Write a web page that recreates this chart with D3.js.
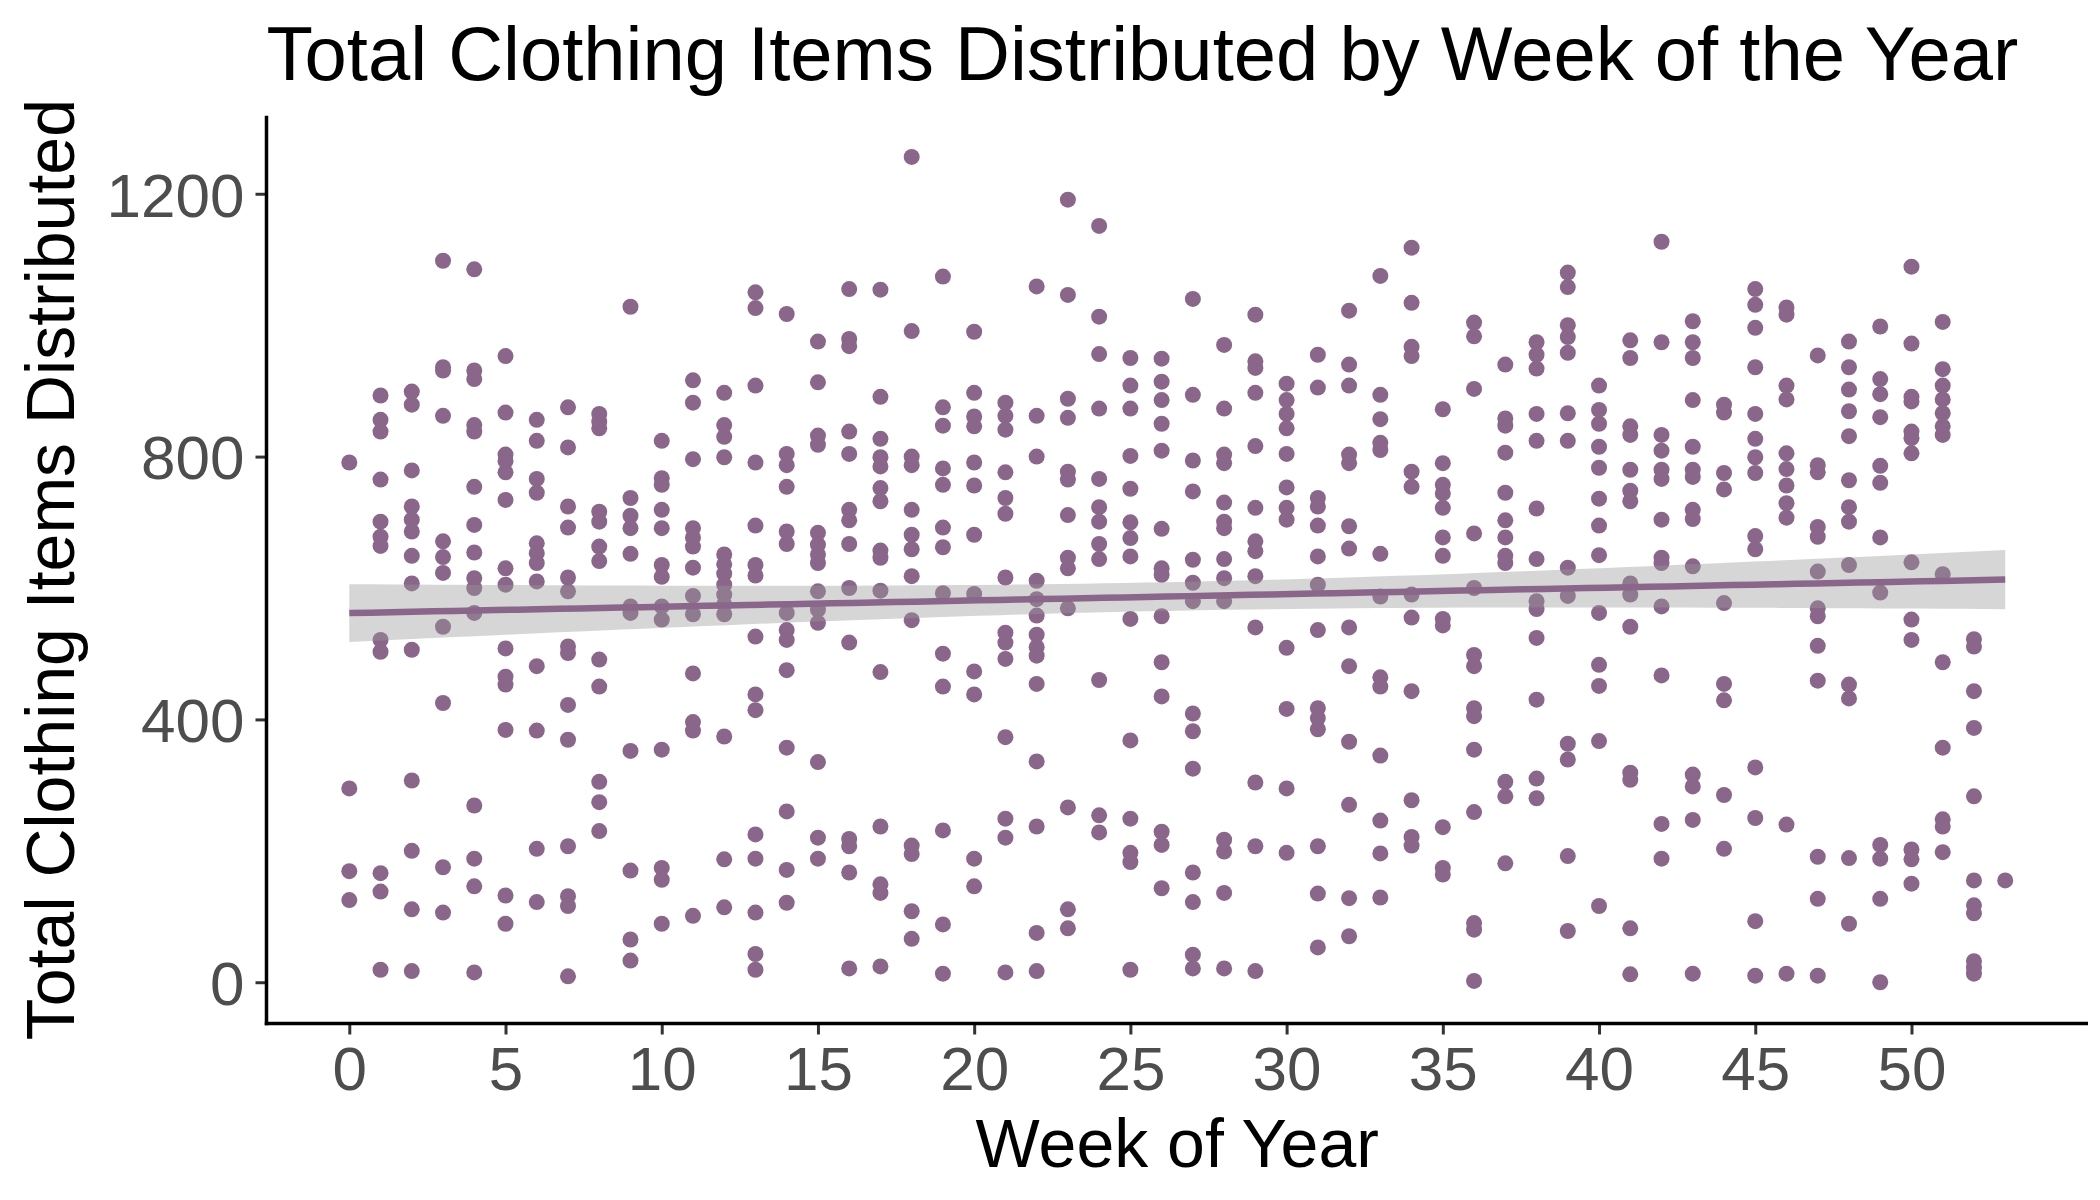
<!DOCTYPE html>
<html>
<head>
<meta charset="utf-8">
<script src="https://cdn.jsdelivr.net/npm/d3@7"></script>
<style>
  html, body { margin: 0; padding: 0; background: #ffffff; }
  svg { display: block; }
  text { font-family: "Liberation Sans", Arial, sans-serif; }
</style>
</head>
<body>
<svg id="chart" width="2100" height="1200"></svg>
<script>
// ---------------- Data ----------------
const chartTitle = "Total Clothing Items Distributed by Week of the Year";
const xTitle = "Week of Year";
const yTitle = "Total Clothing Items Distributed";
const xTickValues = [0, 5, 10, 15, 20, 25, 30, 35, 40, 45, 50];
const yTickValues = [0, 400, 800, 1200];

const wk0  = [791, 295, 169, 125];
const wk1  = [893, 856, 838, 765, 701, 678, 664, 521, 503, 166, 138, 19];
const wk2  = [899, 879, 779, 724, 704, 686, 649, 607, 506, 307, 200, 111, 17];
const wk3  = [1098, 936, 931, 862, 671, 647, 623, 541, 425, 175, 106];
const wk4  = [1085, 931, 918, 848, 838, 754, 696, 654, 615, 600, 562, 269, 188, 146, 15];
const wk5  = [953, 867, 803, 793, 776, 734, 630, 605, 508, 465, 453, 384, 132, 89];
const wk6  = [856, 824, 766, 745, 668, 653, 638, 610, 481, 383, 203, 122];
const wk7  = [875, 814, 724, 692, 616, 595, 511, 501, 422, 369, 207, 131, 116, 9];
const wk8  = [865, 853, 843, 716, 701, 663, 641, 491, 450, 305, 274, 230];
const wk9  = [1028, 737, 710, 691, 652, 572, 562, 352, 170, 65, 33];
const wk10 = [824, 767, 757, 719, 691, 635, 617, 572, 552, 354, 174, 156, 89];
const wk11 = [916, 882, 796, 691, 677, 663, 631, 588, 560, 470, 396, 383, 101];
const wk12 = [897, 848, 830, 799, 651, 636, 622, 605, 590, 575, 560, 374, 187, 114];
const wk13 = [1050, 1026, 908, 791, 695, 635, 619, 526, 438, 414, 225, 188, 106, 43, 19];
const wk14 = [1017, 804, 787, 754, 686, 667, 562, 536, 521, 475, 357, 260, 171, 121];
const wk15 = [975, 913, 832, 818, 684, 666, 651, 638, 595, 567, 547, 335, 220, 188];
const wk16 = [1055, 979, 968, 838, 804, 719, 703, 667, 600, 517, 218, 207, 167, 21];
const wk17 = [1054, 891, 827, 799, 785, 752, 732, 657, 646, 596, 472, 237, 149, 136, 24];
const wk18 = [1256, 991, 800, 787, 719, 681, 659, 618, 551, 208, 195, 108, 66];
const wk19 = [1074, 875, 847, 782, 757, 692, 662, 592, 500, 450, 231, 88, 13];
const wk20 = [990, 897, 861, 846, 791, 756, 681, 591, 473, 438, 188, 146];
const wk21 = [882, 862, 841, 776, 737, 713, 616, 532, 517, 492, 373, 249, 220, 15];
const wk22 = [1059, 862, 800, 611, 583, 558, 529, 510, 497, 454, 336, 237, 75, 17];
const wk23 = [1191, 1046, 888, 859, 777, 765, 711, 646, 630, 569, 266, 111, 82];
const wk24 = [1151, 1013, 956, 873, 766, 723, 701, 667, 644, 460, 254, 228];
const wk25 = [950, 908, 873, 801, 751, 700, 676, 648, 553, 368, 249, 197, 183, 19];
const wk26 = [949, 914, 886, 850, 809, 690, 630, 620, 557, 487, 435, 229, 209, 143];
const wk27 = [1040, 894, 794, 747, 643, 608, 580, 409, 382, 325, 167, 122, 42, 21];
const wk28 = [970, 873, 803, 790, 730, 701, 691, 644, 615, 580, 217, 199, 136, 21];
const wk29 = [1016, 945, 935, 897, 816, 722, 671, 656, 618, 540, 304, 207, 17];
const wk30 = [911, 886, 865, 843, 804, 753, 722, 704, 509, 416, 295, 197];
const wk31 = [955, 905, 737, 724, 695, 648, 605, 536, 417, 402, 385, 207, 135, 53];
const wk32 = [1022, 940, 908, 803, 790, 694, 660, 540, 481, 366, 270, 128, 70];
const wk33 = [1075, 894, 857, 821, 810, 652, 587, 464, 450, 345, 246, 196, 129];
const wk34 = [1118, 1034, 967, 953, 777, 754, 590, 555, 443, 277, 221, 208];
const wk35 = [872, 790, 757, 744, 722, 677, 649, 553, 543, 236, 174, 164];
const wk36 = [1004, 983, 903, 683, 600, 498, 481, 417, 405, 354, 259, 90, 80, 2];
const wk37 = [940, 858, 847, 806, 745, 703, 677, 649, 638, 305, 283, 181];
const wk38 = [974, 955, 934, 865, 824, 721, 644, 580, 568, 524, 430, 310, 280];
const wk39 = [1080, 1058, 1000, 982, 958, 866, 824, 631, 588, 363, 339, 192, 78];
const wk40 = [908, 871, 850, 815, 783, 736, 695, 650, 562, 483, 451, 367, 116];
const wk41 = [977, 950, 846, 833, 780, 748, 732, 607, 590, 541, 319, 308, 82, 12];
const wk42 = [1127, 974, 833, 809, 780, 766, 704, 646, 638, 572, 467, 241, 188];
const wk43 = [1006, 974, 950, 886, 815, 780, 769, 719, 705, 633, 316, 298, 247, 13];
const wk44 = [879, 867, 775, 750, 577, 454, 429, 285, 203];
const wk45 = [1055, 1031, 996, 936, 865, 827, 799, 775, 679, 659, 327, 250, 93, 10];
const wk46 = [1027, 1016, 908, 887, 805, 781, 756, 729, 707, 240, 13];
const wk47 = [954, 787, 776, 693, 678, 625, 569, 557, 512, 459, 191, 127, 10];
const wk48 = [975, 936, 902, 869, 831, 764, 723, 701, 635, 453, 432, 189, 89];
const wk49 = [998, 918, 895, 860, 786, 760, 677, 593, 209, 188, 127, 0];
const wk50 = [1089, 972, 891, 884, 838, 828, 805, 639, 552, 521, 202, 187, 150];
const wk51 = [1005, 933, 908, 887, 866, 846, 833, 621, 487, 357, 248, 237, 198];
const wk52 = [522, 511, 443, 387, 283, 155, 117, 105, 32, 22, 13];
const wk53 = [155];

const weekNumbers = [0,1,2,3,4,5,6,7,8,9,10,11,12,13,14,15,16,17,18,19,20,21,22,23,24,25,26,
  27,28,29,30,31,32,33,34,35,36,37,38,39,40,41,42,43,44,45,46,47,48,49,50,51,52,53];
const weekValues = [wk0, wk1, wk2, wk3, wk4, wk5, wk6, wk7, wk8, wk9, wk10, wk11, wk12, wk13,
  wk14, wk15, wk16, wk17, wk18, wk19, wk20, wk21, wk22, wk23, wk24, wk25, wk26, wk27, wk28,
  wk29, wk30, wk31, wk32, wk33, wk34, wk35, wk36, wk37, wk38, wk39, wk40, wk41, wk42, wk43,
  wk44, wk45, wk46, wk47, wk48, wk49, wk50, wk51, wk52, wk53];

// ---------------- Build point table ----------------
const points = [];
weekNumbers.forEach((w, i) => weekValues[i].forEach(v => points.push({ week: w, items: v })));

// ---------------- Layout ----------------
const svg = d3.select("#chart");
const panel = { left: 266.5, right: 2088, top: 115.7, bottom: 1023.5 };
const pointColor = "#8B668B";

const xExt = d3.extent(points, d => d.week);
const yExt = d3.extent(points, d => d.items);
const xPad = (xExt[1] - xExt[0]) * 0.05;
const yPad = (yExt[1] - yExt[0]) * 0.05;

const x = d3.scaleLinear().domain([xExt[0] - xPad, xExt[1] + xPad]).range([panel.left, panel.right]);
const y = d3.scaleLinear().domain([yExt[0] - yPad, yExt[1] + yPad]).range([panel.bottom, panel.top]);

// ---------------- Linear model with 95% confidence band ----------------
const n = points.length;
const xbar = d3.mean(points, d => d.week);
const ybar = d3.mean(points, d => d.items);
const sxx = d3.sum(points, d => (d.week - xbar) ** 2);
const sxy = d3.sum(points, d => (d.week - xbar) * (d.items - ybar));
const slope = sxy / sxx;
const intercept = ybar - slope * xbar;
const sse = d3.sum(points, d => (d.items - (intercept + slope * d.week)) ** 2);
const sigma = Math.sqrt(sse / (n - 2));
const tq = 1.9634; // t(0.975, df ~ n-2)
const fitGrid = d3.range(0, 80).map(i => xExt[0] + (xExt[1] - xExt[0]) * i / 79);
const fit = fitGrid.map(gx => {
  const yh = intercept + slope * gx;
  const se = sigma * Math.sqrt(1 / n + (gx - xbar) ** 2 / sxx);
  return { gx, yh, lo: yh - tq * se, hi: yh + tq * se };
});

// ---------------- Points ----------------
svg.append("g")
  .selectAll("circle")
  .data(points)
  .join("circle")
  .attr("cx", d => x(d.week))
  .attr("cy", d => y(d.items))
  .attr("r", 8)
  .attr("fill", pointColor);

// ---------------- Smooth ribbon + line ----------------
svg.append("path")
  .datum(fit)
  .attr("d", d3.area().x(d => x(d.gx)).y0(d => y(d.lo)).y1(d => y(d.hi)))
  .attr("fill", "#999999")
  .attr("fill-opacity", 0.4);

svg.append("path")
  .datum(fit)
  .attr("d", d3.line().x(d => x(d.gx)).y(d => y(d.yh)))
  .attr("fill", "none")
  .attr("stroke", pointColor)
  .attr("stroke-width", 6.5);

// ---------------- Axes ----------------
const tickLen = 11;
const tickFont = 62;

const xAxis = d3.axisBottom(x).tickValues(xTickValues).tickSize(tickLen).tickPadding(10).tickFormat(d3.format("d"));
const yAxis = d3.axisLeft(y).tickValues(yTickValues).tickSize(tickLen).tickPadding(11).tickFormat(d3.format("d"));

const gx = svg.append("g").attr("transform", `translate(0,${panel.bottom})`).call(xAxis);
const gy = svg.append("g").attr("transform", `translate(${panel.left},0)`).call(yAxis);

[gx, gy].forEach(g => {
  g.select(".domain").remove();
  g.selectAll(".tick line").attr("stroke", "#333333").attr("stroke-width", 3);
  g.selectAll(".tick text")
    .attr("fill", "#4D4D4D")
    .style("font-size", tickFont + "px")
    .style("font-family", '"Liberation Sans", Arial, sans-serif');
});
gx.selectAll(".tick text").attr("dy", "0.74em");
gy.selectAll(".tick text").attr("dy", "0.36em");

// axis lines
svg.append("line")
  .attr("x1", panel.left).attr("x2", panel.left)
  .attr("y1", panel.top).attr("y2", panel.bottom + 1.75)
  .attr("stroke", "#000").attr("stroke-width", 3.5);
svg.append("line")
  .attr("x1", panel.left - 1.75).attr("x2", panel.right)
  .attr("y1", panel.bottom).attr("y2", panel.bottom)
  .attr("stroke", "#000").attr("stroke-width", 3.5);

// ---------------- Titles ----------------
svg.append("text")
  .attr("x", panel.left)
  .attr("y", 80)
  .attr("fill", "#000")
  .style("font-size", "76px")
  .text(chartTitle);

svg.append("text")
  .attr("x", (panel.left + panel.right) / 2)
  .attr("y", 1167)
  .attr("text-anchor", "middle")
  .attr("fill", "#000")
  .style("font-size", "68px")
  .text(xTitle);

svg.append("text")
  .attr("transform", `translate(74,${(panel.top + panel.bottom) / 2}) rotate(-90)`)
  .attr("text-anchor", "middle")
  .attr("fill", "#000")
  .style("font-size", "68px")
  .text(yTitle);
</script>
</body>
</html>
